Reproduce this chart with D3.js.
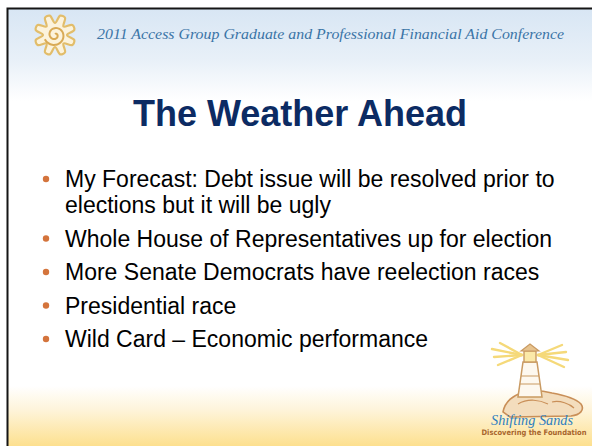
<!DOCTYPE html>
<html>
<head>
<meta charset="utf-8">
<script src="https://cdn.jsdelivr.net/npm/d3@7"></script>
<style>
    html, body { margin: 0; padding: 0; background: #fff; }
    .slide { width: 592px; height: 446px; }
</style>
</head>
<body>
<div class="slide"></div>
<script>
// SLIDE CONTENT *****************************************************************
var headerText = '2011 Access Group Graduate and Professional Financial Aid Conference';
var titleText = 'The Weather Ahead';
// each bullet is a list of its wrapped lines
var bulletLines = [
    ['My Forecast: Debt issue will be resolved prior to', 'elections but it will be ugly'],
    ['Whole House of Representatives up for election'],
    ['More Senate Democrats have reelection races'],
    ['Presidential race'],
    ['Wild Card \u2013 Economic performance']
];
var logoTexts = ['Shifting Sands', 'Discovering the Foundation'];

(function() {
    'use strict';

    // SVG SETUP *********************************************************************
    var width = 592,
        height = 446;

    var svg = d3.select('.slide').append('svg')
                .attr('width', width)
                .attr('height', height);

    var defs = svg.append('defs');

    // header band: pale blue fading to white
    var headGrad = defs.append('linearGradient')
                    .attr('id', 'headGrad')
                    .attr('x1', 0).attr('y1', 0).attr('x2', 0).attr('y2', 1);
    headGrad.append('stop').attr('offset', '0%').attr('stop-color', '#d8e6f4');
    headGrad.append('stop').attr('offset', '55%').attr('stop-color', '#e8f0f8');
    headGrad.append('stop').attr('offset', '100%').attr('stop-color', '#ffffff');

    // footer band: white fading into sand yellow
    var footGrad = defs.append('linearGradient')
                    .attr('id', 'footGrad')
                    .attr('x1', 0).attr('y1', 0).attr('x2', 0).attr('y2', 1);
    footGrad.append('stop').attr('offset', '0%').attr('stop-color', '#ffffff');
    footGrad.append('stop').attr('offset', '40%').attr('stop-color', '#fef4da');
    footGrad.append('stop').attr('offset', '100%').attr('stop-color', '#fde08f');

    svg.append('rect')
        .attr('width', width).attr('height', height)
        .attr('fill', '#fff');

    svg.append('rect')
        .attr('x', 8).attr('y', 9)
        .attr('width', width - 8).attr('height', 92)
        .attr('fill', 'url(#headGrad)');

    svg.append('rect')
        .attr('x', 8).attr('y', 386)
        .attr('width', width - 8).attr('height', height - 386)
        .attr('fill', 'url(#footGrad)');

    // slide frame (only top and left edges are inside the window)
    svg.append('path')
        .attr('d', 'M7.5,' + height + 'V8.5H' + width)
        .attr('fill', 'none')
        .attr('stroke', '#151515')
        .attr('stroke-width', 2);


    // SUN LOGO **********************************************************************
    var sun = svg.append('g')
                .attr('transform', 'translate(55,35)');

    var petal = d3.lineRadial()
                    .curve(d3.curveCatmullRomClosed.alpha(0.5))
                    .angle(function(d) { return d; })
                    .radius(function(d, i) { return i % 3 === 0 ? 12 : 20; });

    sun.append('path')
        .attr('d', petal(d3.range(0, 2 * Math.PI - 0.01, Math.PI / 12)))
        .attr('fill', '#fcf3dc')
        .attr('stroke', '#e2bd6a')
        .attr('stroke-width', 2.2);

    var spiral = d3.lineRadial()
                    .curve(d3.curveBasis)
                    .angle(function(d) { return d; })
                    .radius(function(d) { return 1 + d * 0.95; });

    sun.append('path')
        .attr('d', spiral(d3.range(0, 3.4 * Math.PI, 0.2)))
        .attr('fill', 'none')
        .attr('stroke', '#d9aa55')
        .attr('stroke-width', 2);

    // HEADER LINE *******************************************************************
    svg.append('text')
        .attr('x', 97)
        .attr('y', 39)
        .attr('textLength', 467)
        .attr('lengthAdjust', 'spacingAndGlyphs')
        .attr('font-family', '"Liberation Serif", serif')
        .attr('font-style', 'italic')
        .attr('font-size', 14)
        .attr('fill', '#3a74a6')
        .text(headerText);

    // TITLE *************************************************************************
    svg.append('text')
        .attr('x', 300)
        .attr('y', 126)
        .attr('text-anchor', 'middle')
        .attr('font-family', '"Liberation Sans", Arial, sans-serif')
        .attr('font-weight', 'bold')
        .attr('font-size', 36)
        .attr('fill', '#0c2b63')
        .text(titleText);


    // BULLETS ***********************************************************************
    // flatten to one row per line, keeping track of paragraph starts
    var rows = [];
    bulletLines.forEach(function(lines, b) {
        lines.forEach(function(l, j) {
            rows.push({bullet: b, first: j === 0, text: l});
        });
    });

    var lineGap = 26,
        paraGap = 7.5,
        top = 187;
    var y = top;
    rows.forEach(function(r, i) {
        if (i > 0) {
            y += lineGap + (r.first ? paraGap : 0);
        }
        r.y = y;
    });

    var body = svg.append('g')
                .attr('class', 'bullets')
                .attr('font-family', '"Liberation Sans", Arial, sans-serif')
                .attr('font-size', 23)
                .attr('fill', '#000');

    body.selectAll('text')
        .data(rows)
        .enter()
        .append('text')
        .attr('x', 65)
        .attr('y', function(d) { return d.y; })
        .text(function(d) { return d.text; });

    body.selectAll('circle')
        .data(rows.filter(function(d) { return d.first; }))
        .enter()
        .append('circle')
        .attr('cx', 46)
        .attr('cy', function(d) { return d.y - 8; })
        .attr('r', 3.2)
        .attr('fill', '#d4743c');


    // LIGHTHOUSE LOGO ***************************************************************
    var lh = svg.append('g')
                .attr('class', 'lighthouse');

    // light rays
    var rays = [[-38, -6], [-36, 2], [-32, 10], [-30, -12], [32, -10], [36, -3], [38, 5], [34, 12]];
    lh.selectAll('line.ray')
        .data(rays)
        .enter()
        .append('line')
        .attr('class', 'ray')
        .attr('x1', function(d) { return 530 + (d[0] > 0 ? 8 : -8); })
        .attr('y1', 355)
        .attr('x2', function(d) { return 530 + d[0]; })
        .attr('y2', function(d) { return 355 + d[1]; })
        .attr('stroke', '#f5d979')
        .attr('stroke-width', 2.4)
        .attr('stroke-linecap', 'round');

    // rock
    lh.append('path')
        .attr('d', 'M503,412 C505,401 514,395 522,393 C532,389 544,391 552,393 C563,395 575,398 581,404 C585,410 580,415 571,416 L510,417 Z')
        .attr('fill', '#f3ddbd')
        .attr('stroke', '#c98f58')
        .attr('stroke-width', 1.6);
    lh.append('path')
        .attr('d', 'M518,404 C528,398 540,400 548,404 M552,402 C560,400 570,404 574,408')
        .attr('fill', 'none')
        .attr('stroke', '#c98f58')
        .attr('stroke-width', 1.2);

    // tower
    lh.append('path')
        .attr('d', 'M523,362 L537,362 L542,397 L518,397 Z')
        .attr('fill', '#fdf8ef')
        .attr('stroke', '#c99a62')
        .attr('stroke-width', 1.5);
    lh.append('path')
        .attr('d', 'M521,376 L539,376 M520,384 L540,384')
        .attr('stroke', '#c99a62')
        .attr('stroke-width', 1.2);
    // lamp room and roof
    lh.append('rect')
        .attr('x', 524).attr('y', 351)
        .attr('width', 12).attr('height', 11)
        .attr('fill', '#fbe9a8')
        .attr('stroke', '#c99a62')
        .attr('stroke-width', 1.4);
    lh.append('path')
        .attr('d', 'M521,351 L530,344 L539,351 Z')
        .attr('fill', '#e7c38e')
        .attr('stroke', '#c99a62')
        .attr('stroke-width', 1.2);

    lh.append('text')
        .attr('x', 491)
        .attr('y', 425)
        .attr('textLength', 82)
        .attr('lengthAdjust', 'spacingAndGlyphs')
        .attr('font-family', '"Liberation Serif", serif')
        .attr('font-style', 'italic')
        .attr('font-size', 15)
        .attr('fill', '#2f7fbf')
        .text(logoTexts[0]);

    lh.append('text')
        .attr('x', 534)
        .attr('y', 435)
        .attr('text-anchor', 'middle')
        .attr('font-family', '"Liberation Sans Narrow", "DejaVu Sans Condensed", sans-serif')
        .attr('font-weight', 'bold')
        .attr('font-size', 7.5)
        .attr('fill', '#a8652c')
        .text(logoTexts[1]);

}());
</script>
</body>
</html>
